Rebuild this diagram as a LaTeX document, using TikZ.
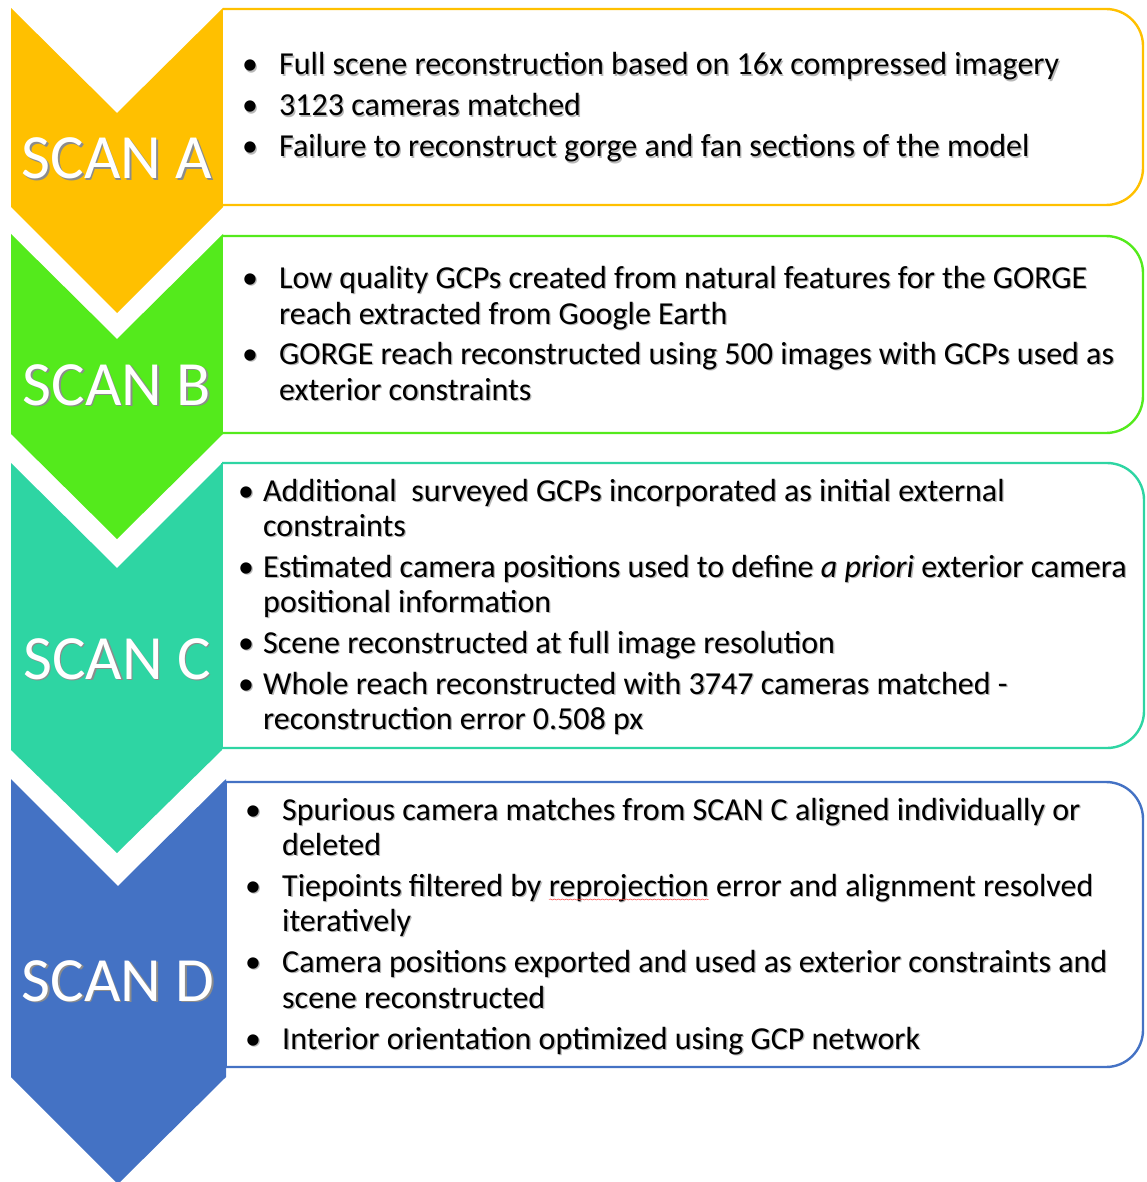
\documentclass[tikz,border=0pt]{standalone}
\usepackage{fontspec}
\setmainfont{Carlito}
\usetikzlibrary{decorations.pathmorphing}

\definecolor{scanA}{RGB}{255,192,0}
\definecolor{scanB}{RGB}{84,234,28}
\definecolor{scanC}{RGB}{46,213,163}
\definecolor{scanD}{RGB}{68,114,196}

% soft drop shadow behind body text
\newif\ifshadowcopy
\newcommand\shd[1]{\makebox[0pt][l]{\shadowcopytrue\kern1.3pt\raisebox{-1.3pt}{\textcolor{black!28}{#1}}}#1}
% wavy proofing underline under a word
\newcommand\spellmark[1]{\ifshadowcopy #1\else\tikz[baseline=(w.base)]{\node[inner sep=0pt,outer sep=0pt] (w) {#1};
  \draw[red!70, line width=0.5pt, decorate, decoration={snake, amplitude=0.5pt, segment length=4pt}]
   ([yshift=-3.5pt]w.base west) -- ([yshift=-3.5pt]w.base east);}\fi}
% white step label with a dark halo
\newcommand\steplabel[1]{\makebox[0pt][l]{\kern1.5pt\raisebox{-1.5pt}{\textcolor{black!45}{#1}}}#1}

\tikzset{
  chev/.style={fill=#1, draw=none},
  panel/.style={draw=#1, line width=2.4pt, fill=white, rounded corners=37pt},
  edge/.style={draw=#1, line width=2.4pt},
  txt/.style={anchor=base west, inner sep=0pt, font=\fontsize{32}{38}\selectfont, text=black},
  dot/.style={anchor=base, inner sep=0pt, font=\fontsize{32}{38}\selectfont, text=black},
  lab/.style={anchor=base, inner sep=0pt, font=\fontsize{63}{70}\selectfont, text=white},
}

\begin{document}
\begin{tikzpicture}[x=1pt,y=-1pt]
\useasboundingbox (0,0) rectangle (1146,1182);

% ---- step chevrons ----
\fill[chev=scanA] (11,8) -- (117,113) -- (223,8) -- (223,207) -- (117,313) -- (11,207) -- cycle;
\fill[chev=scanB] (11,234) -- (117,339) -- (223,234) -- (223,434) -- (117,539) -- (11,434) -- cycle;
\fill[chev=scanC] (11,463) -- (117,568) -- (222,463) -- (222,750) -- (117,853) -- (11,750) -- cycle;
\fill[chev=scanD] (11,779) -- (118,886) -- (226,779) -- (226,1077) -- (118,1184) -- (11,1077) -- cycle;

% ---- description panels: square left side, rounded right side ----
\draw[panel=scanA] (223,9) -- (1143,9) -- (1143,205) -- (223,205);
\draw[panel=scanB] (223,236) -- (1143,236) -- (1143,433) -- (223,433);
\draw[panel=scanC] (222,463) -- (1144,463) -- (1144,748) -- (222,748);
\draw[edge=scanC] (222,463) -- (222,748);
\draw[panel=scanD] (226,782) -- (1143,782) -- (1143,1067) -- (226,1067);
\draw[edge=scanD] (226,782) -- (226,1067);

% ---- step labels ----
\node[lab] (la) at (117,179) {\steplabel{SCAN A}};
\node[lab] (lb) at (117,405) {\steplabel{SCAN B}};
\node[lab] (lc) at (117,679) {\steplabel{SCAN C}};
\node[lab] (ld) at (118,1001) {\steplabel{SCAN D}};

% ---- SCAN A ----
\node[dot] (da1) at (250,75) {\shd{•}};
\node[txt] (a1) at (279,75) {\shd{Full scene reconstruction based on 16x compressed imagery}};
\node[dot] (da2) at (250,116) {\shd{•}};
\node[txt] (a2) at (279,116) {\shd{3123 cameras matched}};
\node[dot] (da3) at (250,157) {\shd{•}};
\node[txt] (a3) at (279,157) {\shd{Failure to reconstruct gorge and fan sections of the model}};

% ---- SCAN B ----
\node[dot] (db1) at (250,288) {\shd{•}};
\node[txt] (b1) at (279,288) {\shd{Low quality GCPs created from natural features for the GORGE}};
\node[txt] (b2) at (279,324) {\shd{reach extracted from Google Earth}};
\node[dot] (db3) at (250,364) {\shd{•}};
\node[txt] (b3) at (279,364) {\shd{GORGE reach reconstructed using 500 images with GCPs used as}};
\node[txt] (b4) at (279,400) {\shd{exterior constraints}};

% ---- SCAN C ----
\node[dot] (dc1) at (246,501) {\shd{•}};
\node[txt] (c1) at (263,501) {\shd{Additional\ \ surveyed GCPs incorporated as initial external}};
\node[txt] (c2) at (263,536) {\shd{constraints}};
\node[dot] (dc3) at (246,577) {\shd{•}};
\node[txt] (c3) at (263,577) {\shd{Estimated camera positions used to define \textit{a priori} exterior camera}};
\node[txt] (c4) at (263,612) {\shd{positional information}};
\node[dot] (dc5) at (246,653) {\shd{•}};
\node[txt] (c5) at (263,653) {\shd{Scene reconstructed at full image resolution}};
\node[dot] (dc6) at (246,694) {\shd{•}};
\node[txt] (c6) at (263,694) {\shd{Whole reach reconstructed with 3747 cameras matched -}};
\node[txt] (c7) at (263,729) {\shd{reconstruction error 0.508 px}};

% ---- SCAN D ----
\node[dot] (dd1) at (253,820) {\shd{•}};
\node[txt] (d1) at (282,820) {\shd{Spurious camera matches from SCAN C aligned individually or}};
\node[txt] (d2) at (282,855) {\shd{deleted}};
\node[dot] (dd3) at (253,896) {\shd{•}};
\node[txt] (d3) at (282,896) {\shd{Tiepoints filtered by \spellmark{reprojection} error and alignment resolved}};
\node[txt] (d4) at (282,931) {\shd{iteratively}};
\node[dot] (dd5) at (253,972) {\shd{•}};
\node[txt] (d5) at (282,972) {\shd{Camera positions exported and used as exterior constraints and}};
\node[txt] (d6) at (282,1008) {\shd{scene reconstructed}};
\node[dot] (dd7) at (253,1049) {\shd{•}};
\node[txt] (d7) at (282,1049) {\shd{Interior orientation optimized using GCP network}};
\end{tikzpicture}
\end{document}
